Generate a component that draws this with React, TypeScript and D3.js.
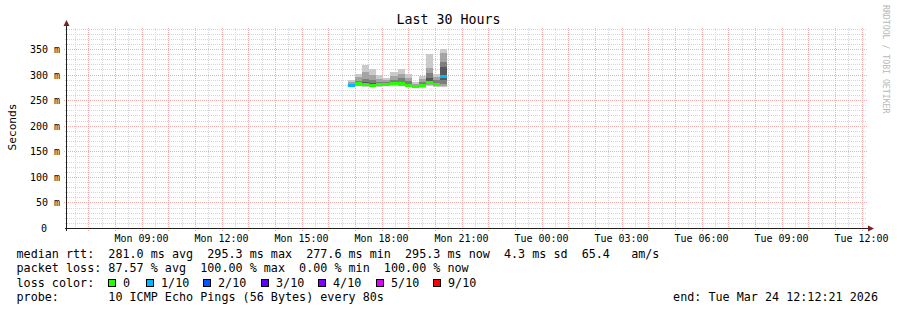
import React from "react";
import * as d3 from "d3";

// ---------- data ----------
const chartTitle = "Last 30 Hours";
const yAxisTitle = "Seconds";
const watermark = "RRDTOOL / TOBI OETIKER";

// 16-minute consolidated steps (Mon 23 Mar 2026)
const blockStarts = [
  "16:44", "17:00", "17:16", "17:32", "17:48", "18:04", "18:20",
  "18:36", "18:52", "19:08", "19:24", "19:40", "19:56", "20:12",
];
const blockMinutes = 16;

// median rtt in ms
const medianRtt = [
  278.6, 281.6, 280.6, 279.0, 279.6, 280.6, 282.0,
  281.6, 278.6, 277.6, 278.0, 284.0, 280.6, 295.3,
];
// lost pings out of 10
const lostPings = [1, 0, 0, 0, 0, 0, 0, 0, 0, 0, 0, 0, 0, 1];

// sorted ping times (ms) for each step
const pingTimes: number[][] = [
  [276, 277, 277.5, 278, 278.5, 278.7, 279.5, 281, 285, 289],
  [277, 278.5, 279.5, 280.5, 281, 282, 284, 288, 295, 302],
  [276.5, 278, 279, 280, 280.5, 281, 285, 292, 305, 318],
  [276, 277, 278, 278.5, 279, 279.5, 283, 290, 300, 310],
  [276, 277.5, 278.5, 279, 279.5, 280, 282, 286, 292, 299],
  [277, 278, 279, 280, 280.5, 281, 283, 285, 289, 293],
  [278, 279, 280, 281, 282, 282.5, 285, 290, 297, 305],
  [277.5, 278.5, 280, 281, 281.5, 282, 286, 293, 302, 310],
  [275, 276, 277, 278, 278.5, 279, 282, 287, 294, 301],
  [274, 275, 276, 277, 277.5, 278, 279, 280, 282, 285],
  [274.5, 275.5, 276.5, 277.5, 278, 278.5, 281, 285, 291, 297],
  [278, 280, 281.5, 283, 284, 285, 293, 303, 313, 340],
  [276, 277.5, 279, 280, 280.5, 281, 284, 289, 295, 302],
  [276, 278, 282, 290, 295, 296, 315, 325, 342, 349],
];

const yTicks = [0, 0.05, 0.1, 0.15, 0.2, 0.25, 0.3, 0.35];

const lossLabels = ["0", "1/10", "2/10", "3/10", "4/10", "5/10", "9/10"];
const lossColors = ["#26ff00", "#00b8ff", "#0059ff", "#5e00ff", "#7e00ff", "#dd00ff", "#ff0000"];

const legendLines = [
  "median rtt:  281.0 ms avg  295.3 ms max  277.6 ms min  295.3 ms now  4.3 ms sd  65.4   am/s",
  "packet loss: 87.57 % avg  100.00 % max  0.00 % min  100.00 % now",
  "loss color:",
  "probe:       10 ICMP Echo Pings (56 Bytes) every 80s",
];
const endText = "end: Tue Mar 24 12:12:21 2026";

// ---------- layout ----------
const W = 897;
const H = 310;
const X0 = 67;
const X1 = 867;
const Y0 = 228;
const Y1 = 28;
const FONT = "'DejaVu Sans Mono', monospace";
const GRID = "#d6d6d6";
const MGRID = "#f3abab";
const ARROW = "#801f1f";
const AXIS = "#1f1f1f";

function parseBlock(s: string): Date {
  const [h, m] = s.split(":").map(Number);
  return new Date(2026, 2, 23, h, m, 0);
}

export default function App() {
  const start = new Date(2026, 2, 23, 6, 12, 21);
  const end = new Date(2026, 2, 24, 12, 12, 21);
  const x = d3.scaleTime().domain([start, end]).range([X0, X1]);
  const y = d3.scaleLinear().domain([0, 0.391]).range([Y0, Y1]);

  const hours = d3.timeHour.every(1)!.range(start, end);
  const halfHours = d3.timeMinute.every(30)!.range(start, end).filter((d) => d.getMinutes() !== 0);
  const labelHours = d3.timeHour.every(3)!.range(start, end);
  const fmt = d3.timeFormat("%a %H:%M");

  const minorY = d3.range(1, 40).map((i) => i / 100).filter((v) => Math.round(v * 100) % 5 !== 0 && y(v) >= Y1);
  const majorY = yTicks.filter((v) => v > 0);

  const px = (v: number) => Math.round(v) + 0.5;

  const blocks = blockStarts.map((s, i) => {
    const t0 = parseBlock(s);
    const t1 = d3.timeMinute.offset(t0, blockMinutes);
    return { x0: x(t0), x1: x(t1), pings: pingTimes[i], med: medianRtt[i], loss: lostPings[i] };
  });

  const half = 5;
  const sw = (0.391 / 200) * 1.5;

  const lossIdx = (l: number) => (l <= 5 ? l : 6);

  const legendBoxX = [108, 146, 203, 261, 318, 376, 433];
  const legendY = [257.5, 272, 286.5, 301];

  return (
    <svg
      width={W}
      height={H}
      style={{ position: "fixed", left: 0, top: 0, background: "#ffffff" }}
      fontFamily={FONT}
    >
      <rect x={0} y={0} width={W} height={H} fill="#ffffff" />

      {/* minor grid */}
      <g stroke={GRID} strokeWidth={1} strokeDasharray="1 1" shapeRendering="crispEdges">
        {minorY.map((v) => (
          <line key={"hy" + v} x1={X0 - 2} x2={X1} y1={px(y(v))} y2={px(y(v))} />
        ))}
        {halfHours.map((d) => (
          <line key={"vx" + +d} x1={px(x(d))} x2={px(x(d))} y1={Y1} y2={Y0 + 2} />
        ))}
      </g>
      {/* major grid */}
      <g stroke={MGRID} strokeWidth={1} strokeDasharray="1 1" shapeRendering="crispEdges">
        {majorY.map((v) => (
          <line key={"my" + v} x1={X0 - 3} x2={X1} y1={px(y(v))} y2={px(y(v))} />
        ))}
        {hours.map((d) => (
          <line key={"mx" + +d} x1={px(x(d))} x2={px(x(d))} y1={Y1} y2={Y0 + 3} />
        ))}
      </g>

      {/* smoke */}
      <g shapeRendering="crispEdges">
        {blocks.map((b, i) =>
          d3.range(half).map((ibot) => {
            const itop = b.pings.length - 1 - ibot;
            const c = Math.floor((190 / half) * (half - 1 - ibot)) + 50;
            const yt = y(b.pings[itop] / 1000);
            const yb = y(b.pings[ibot] / 1000);
            return (
              <rect
                key={"s" + i + "-" + ibot}
                x={b.x0}
                width={b.x1 - b.x0}
                y={yt}
                height={Math.max(yb - yt, 0.6)}
                fill={d3.rgb(c, c, c).formatHex()}
              />
            );
          })
        )}
        {blocks.map((b, i) => (
          <rect
            key={"m" + i}
            x={b.x0}
            width={b.x1 - b.x0}
            y={y(b.med / 1000 + sw)}
            height={y(b.med / 1000 - sw) - y(b.med / 1000 + sw)}
            fill={lossColors[lossIdx(b.loss)]}
          />
        ))}
      </g>

      {/* axes */}
      <g shapeRendering="crispEdges" stroke={AXIS}>
        <line x1={X0 - 2} x2={X1 + 4} y1={Y0 + 0.5} y2={Y0 + 0.5} />
        <line x1={X0 - 0.5} x2={X0 - 0.5} y1={Y0 + 3} y2={Y1 - 4} />
      </g>
      <path d={`M${X1 + 1},${Y0 - 2.5} L${X1 + 7},${Y0 + 0.5} L${X1 + 1},${Y0 + 3.5} Z`} fill={ARROW} />
      <path d={`M${X0 - 3.5},${Y1 - 2} L${X0 - 0.5},${Y1 - 8} L${X0 + 2.5},${Y1 - 2} Z`} fill={ARROW} />

      {/* y tick labels */}
      <g fontSize={10} fill="#000">
        {yTicks.map((v) => (
          <text key={"yl" + v} x={v === 0 ? 47 : 60} y={y(v) + 4} textAnchor="end">
            {v === 0 ? "0" : `${Math.round(v * 1000)} m`}
          </text>
        ))}
      </g>
      {/* x tick labels */}
      <g fontSize={10} fill="#000">
        {labelHours.map((d) => (
          <text key={"xl" + +d} x={x(d)} y={241.5} textAnchor="middle">
            {fmt(d)}
          </text>
        ))}
      </g>

      {/* titles */}
      <text x={448.5} y={24} fontSize={13.3} textAnchor="middle" fill="#000">
        {chartTitle}
      </text>
      <text transform="translate(15.5,127) rotate(-90)" fontSize={11.2} textAnchor="middle" fill="#000">
        {yAxisTitle}
      </text>
      <text transform="translate(883,5) rotate(90)" fontSize={8.2} fill="#b8b8b8">
        {watermark}
      </text>

      {/* legend */}
      <g fontSize={11.74} fill="#000">
        {legendLines.map((s, i) => (
          <text key={"lg" + i} x={16.5} y={legendY[i]} xmlSpace="preserve" style={{ whiteSpace: "pre" }}>
            {s}
          </text>
        ))}
        {lossLabels.map((s, i) => (
          <g key={"lc" + i}>
            <rect
              x={legendBoxX[i] + 0.5}
              y={279.5}
              width={7}
              height={7}
              fill={lossColors[i]}
              stroke="#000"
              shapeRendering="crispEdges"
            />
            <text x={legendBoxX[i] + 15} y={legendY[2]}>{s}</text>
          </g>
        ))}
        <text x={878} y={legendY[3]} textAnchor="end">{endText}</text>
      </g>
    </svg>
  );
}
